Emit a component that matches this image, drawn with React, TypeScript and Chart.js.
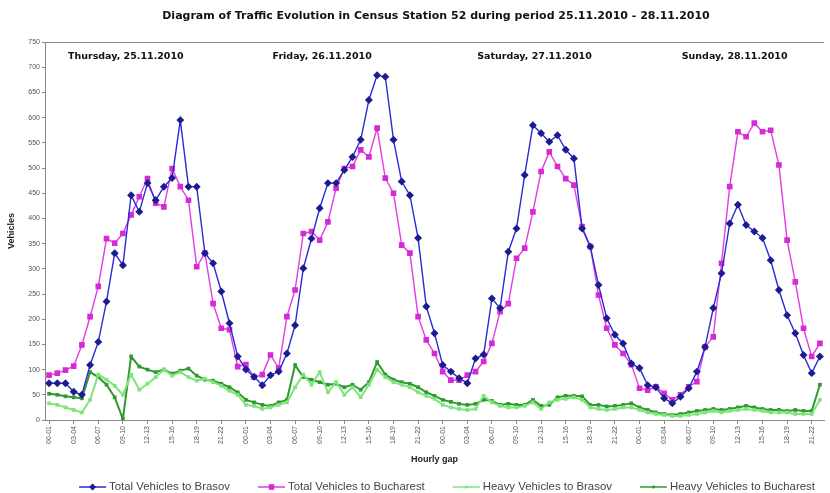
import React, { useEffect, useRef } from 'react';
import { Chart, registerables } from 'chart.js';

Chart.register(...registerables);

const chartTitle = 'Diagram of Traffic Evolution in Census Station 52 during period 25.11.2010 - 28.11.2010';
const xTitle = 'Hourly gap';
const yTitle = 'Vehicles';

const hours = [
  '00-01', '01-02', '02-03', '03-04', '04-05', '05-06', '06-07', '07-08',
  '08-09', '09-10', '10-11', '11-12', '12-13', '13-14', '14-15', '15-16',
  '16-17', '17-18', '18-19', '19-20', '20-21', '21-22', '22-23', '23-24',
];
const days = ['Thursday, 25.11.2010', 'Friday, 26.11.2010', 'Saturday, 27.11.2010', 'Sunday, 28.11.2010'];

const yTicks = [0, 50, 100, 150, 200, 250, 300, 350, 400, 450, 500, 550, 600, 650, 700, 750];

const totalBrasov = [
  73, 73, 73, 56, 50, 109, 155, 235, 331, 307, 446, 413, 470, 436, 463, 480, 595, 463, 463, 331, 311, 255, 192, 126,
  100, 86, 69, 89, 96, 132, 188, 301, 360, 420, 470, 470, 496, 522, 556, 635, 684, 681, 556, 473, 446, 361, 225, 172,
  109, 96, 83, 73, 122, 130, 241, 222, 334, 380, 486, 585, 569, 552, 565, 536, 519, 380, 344, 268, 202, 169, 152, 112,
  103, 69, 65, 43, 33, 46, 63, 96, 145, 222, 291, 390, 427, 387, 374, 361, 317, 258, 208, 172, 129, 93, 126,
];
const totalBucharest = [
  89, 93, 99, 107, 149, 205, 265, 360, 351, 370, 407, 443, 479, 430, 423, 499, 463, 436, 304, 331, 231, 182, 179, 106,
  110, 85, 90, 129, 103, 205, 258, 370, 374, 357, 393, 460, 499, 503, 536, 522, 579, 480, 450, 347, 331, 205, 159, 132,
  96, 79, 79, 89, 96, 116, 152, 215, 231, 321, 341, 413, 493, 532, 503, 479, 466, 384, 344, 248, 182, 149, 132, 110,
  63, 59, 66, 53, 40, 50, 66, 76, 145, 165, 311, 463, 572, 562, 589, 572, 575, 506, 357, 274, 182, 126, 152,
];
const heavyBrasov = [
  33, 30, 25, 20, 15, 40, 90, 80, 68, 50, 90, 60, 72, 85, 100, 88, 95, 85, 78, 82, 75, 68, 58, 50,
  30, 28, 22, 25, 30, 35, 65, 90, 70, 95, 55, 75, 50, 65, 45, 70, 100, 85, 75, 70, 65, 55, 48, 42,
  30, 25, 22, 20, 22, 48, 35, 28, 25, 25, 28, 35, 22, 35, 40, 42, 45, 40, 25, 22, 20, 22, 25, 25,
  20, 15, 12, 10, 8, 8, 10, 12, 15, 18, 15, 18, 20, 22, 20, 18, 15, 15, 15, 12, 12, 12, 40,
];
const heavyBucharest = [
  52, 50, 47, 45, 43, 95, 85, 70, 45, 2, 126, 106, 100, 95, 100, 92, 98, 102, 88, 80, 78, 72, 65, 55,
  40, 35, 30, 28, 35, 40, 109, 85, 80, 75, 70, 72, 65, 70, 60, 75, 115, 90, 80, 75, 72, 65, 55, 48,
  40, 36, 32, 30, 32, 40, 38, 30, 32, 30, 30, 40, 28, 30, 45, 48, 48, 47, 30, 30, 27, 28, 30, 33,
  25, 20, 15, 12, 10, 12, 15, 18, 20, 22, 20, 22, 25, 28, 25, 22, 20, 20, 18, 20, 18, 18, 70,
];

const categories = days.flatMap(() => hours).slice(0, totalBrasov.length);

const seriesNames = [
  'Total Vehicles to Brasov',
  'Total Vehicles to Bucharest',
  'Heavy Vehicles to Brasov',
  'Heavy Vehicles to Bucharest',
];

const FONT = '"Liberation Sans", Arial, sans-serif';
const BOLD_FONT = '"DejaVu Sans", Verdana, sans-serif';

function drawMarker(ctx: CanvasRenderingContext2D, style: string, x: number, y: number, r: number) {
  ctx.beginPath();
  if (style === 'rectRot') {
    ctx.moveTo(x, y - r);
    ctx.lineTo(x + r, y);
    ctx.lineTo(x, y + r);
    ctx.lineTo(x - r, y);
    ctx.closePath();
  } else {
    ctx.rect(x - r * 0.8, y - r * 0.8, r * 1.6, r * 1.6);
  }
  ctx.fill();
}

const decorPlugin = {
  id: 'decor',
  beforeDraw(chart: any) {
    const { ctx, width, height } = chart;
    ctx.save();
    ctx.fillStyle = '#ffffff';
    ctx.fillRect(0, 0, width, height);
    ctx.restore();
  },
  afterDraw(chart: any) {
    const { ctx, chartArea, scales } = chart;
    ctx.save();
    ctx.strokeStyle = '#8a8a8a';
    ctx.lineWidth = 1;
    ctx.beginPath();
    ctx.moveTo(chartArea.left, Math.round(chartArea.top) + 0.5);
    ctx.lineTo(chartArea.right, Math.round(chartArea.top) + 0.5);
    ctx.stroke();

    ctx.fillStyle = '#111';
    ctx.font = `bold 11px ${BOLD_FONT}`;
    ctx.textAlign = 'center';
    ctx.textBaseline = 'middle';
    ctx.fillText(chartTitle, 436, 16);

    ctx.font = `bold 9.5px ${BOLD_FONT}`;
    ctx.textAlign = 'left';
    days.forEach((d, i) => {
      const x = scales.x.getPixelForValue(i * 24.95 + 2.3);
      const y = scales.y.getPixelForValue(722);
      ctx.fillText(d, x, y);
    });

    ctx.font = `11.4px ${FONT}`;
    const lineLen = 27;
    const gapText = 3;
    const gapItem = 28;
    const widths = seriesNames.map((n) => lineLen + gapText + ctx.measureText(n).width);
    const total = widths.reduce((a, b) => a + b, 0) + gapItem * (widths.length - 1);
    let x = 447 - total / 2;
    const ly = 487;
    chart.data.datasets.forEach((ds: any, i: number) => {
      ctx.strokeStyle = ds.borderColor;
      ctx.lineWidth = 1.5;
      ctx.beginPath();
      ctx.moveTo(x, ly);
      ctx.lineTo(x + lineLen, ly);
      ctx.stroke();
      ctx.fillStyle = ds.pointBackgroundColor;
      drawMarker(ctx, ds.pointStyle, x + lineLen / 2, ly, ds.pointRadius + 0.5);
      ctx.fillStyle = '#444';
      ctx.textBaseline = 'middle';
      ctx.fillText(seriesNames[i], x + lineLen + gapText, ly);
      x += widths[i] + gapItem;
    });
    ctx.restore();
  },
};

export default function App() {
  const canvasRef = useRef<HTMLCanvasElement | null>(null);

  useEffect(() => {
    const canvas = canvasRef.current;
    if (!canvas) return;
    const chart = new Chart(canvas, {
      type: 'line',
      data: {
        labels: categories,
        datasets: [
          {
            label: seriesNames[0],
            data: totalBrasov,
            borderColor: '#2a2ad6',
            backgroundColor: '#1c1c90',
            pointBackgroundColor: '#1c1c90',
            pointBorderColor: '#1c1c90',
            pointStyle: 'rectRot',
            pointRadius: 3,
            borderWidth: 1.4,
            tension: 0,
          },
          {
            label: seriesNames[1],
            data: totalBucharest,
            borderColor: '#e23ce2',
            backgroundColor: '#c81cc8',
            pointBackgroundColor: '#d62ad6',
            pointBorderColor: '#d62ad6',
            pointStyle: 'rect',
            pointRadius: 3,
            borderWidth: 1.4,
            tension: 0,
          },
          {
            label: seriesNames[2],
            data: heavyBrasov,
            borderColor: '#7ee57a',
            backgroundColor: '#7ee57a',
            pointBackgroundColor: '#7ee57a',
            pointBorderColor: '#7ee57a',
            pointStyle: 'rect',
            pointRadius: 1.2,
            borderWidth: 2,
            tension: 0,
          },
          {
            label: seriesNames[3],
            data: heavyBucharest,
            borderColor: '#2f9a2f',
            backgroundColor: '#2f9a2f',
            pointBackgroundColor: '#2f9a2f',
            pointBorderColor: '#2f9a2f',
            pointStyle: 'rect',
            pointRadius: 1.2,
            borderWidth: 2,
            tension: 0,
          },
        ],
      },
      options: {
        animation: false,
        responsive: false,
        maintainAspectRatio: false,
        layout: { padding: { top: 42, left: 0, right: 3, bottom: 26 } },
        plugins: {
          legend: { display: false },
          title: { display: false },
          tooltip: { enabled: false },
        },
        scales: {
          x: {
            type: 'category',
            offset: true,
            afterFit: (scale: any) => {
              scale.height = 47;
              scale.paddingLeft = 0;
              scale.paddingRight = 0;
            },
            grid: {
              offset: false,
              drawOnChartArea: false,
              drawTicks: true,
              tickLength: 4,
              color: (c: any) => (c.index % 3 === 0 ? '#888' : 'rgba(0,0,0,0)'),
            },
            border: { display: true, color: '#888' },
            ticks: {
              autoSkip: false,
              minRotation: 90,
              maxRotation: 90,
              padding: 2,
              color: '#555',
              font: { family: FONT, size: 7 },
              callback: (_v: any, i: number) => (i % 3 === 0 ? categories[i] : ''),
            },
            title: {
              display: true,
              text: xTitle,
              color: '#222',
              font: { family: FONT, size: 9, weight: 'bold' },
              padding: { top: 0, bottom: 2 },
            },
          },
          y: {
            min: 0,
            max: 750,
            afterFit: (scale: any) => {
              scale.width = 45;
            },
            afterBuildTicks: (scale: any) => {
              scale.ticks = yTicks.map((v) => ({ value: v }));
            },
            grid: {
              drawOnChartArea: false,
              drawTicks: true,
              tickLength: 3,
              color: '#888',
            },
            border: { display: true, color: '#888' },
            ticks: {
              padding: 2,
              color: '#555',
              font: { family: FONT, size: 7 },
            },
            title: {
              display: true,
              text: yTitle,
              color: '#222',
              font: { family: FONT, size: 9, weight: 'bold' },
              padding: { top: 6, bottom: 0 },
            },
          },
        },
      },
      plugins: [decorPlugin],
    });
    return () => chart.destroy();
  }, []);

  return (
    <div style={{ position: 'fixed', left: 0, top: 0, width: 830, height: 493, background: '#fff' }}>
      <canvas ref={canvasRef} width={830} height={493} style={{ width: 830, height: 493, display: 'block' }} />
    </div>
  );
}
